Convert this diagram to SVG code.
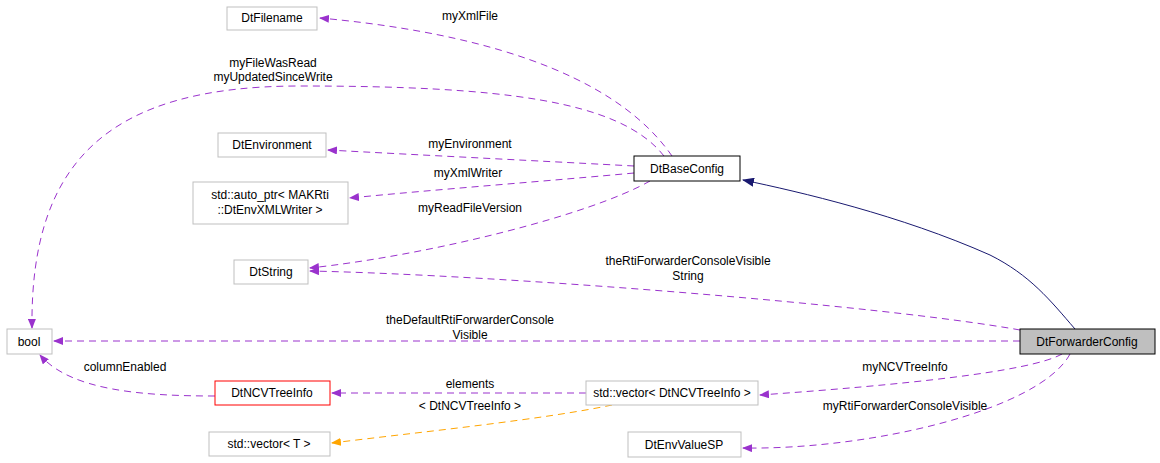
<svg xmlns="http://www.w3.org/2000/svg" width="1160" height="463" viewBox="0 0 1160 463">
<style>
text{font-family:"Liberation Sans",Arial,sans-serif;font-size:12px;fill:#000}
.n{fill:#fff;stroke:#bfbfbf;stroke-width:1}
.p{fill:none;stroke:#9a32cd;stroke-dasharray:7,5;stroke-width:1}
.o{fill:none;stroke:#ffa500;stroke-dasharray:7,5;stroke-width:1}
</style>
<defs>
<marker id="ap" markerWidth="10" markerHeight="8" refX="9" refY="4" orient="auto" markerUnits="userSpaceOnUse"><path d="M0,0L10,4L0,8z" fill="#9a32cd"/></marker>
<marker id="ao" markerWidth="10" markerHeight="8" refX="9" refY="4" orient="auto" markerUnits="userSpaceOnUse"><path d="M0,0L10,4L0,8z" fill="#ffa500"/></marker>
<marker id="an" markerWidth="12" markerHeight="9" refX="11" refY="4.5" orient="auto" markerUnits="userSpaceOnUse"><path d="M0,0L12,4.5L0,9z" fill="#191970"/></marker>
</defs>
<g id="connectors">
<path d="M1075,329 C1050,300 1030,275 990,255 C900,215 800,192 743,180" fill="none" stroke="#191970" marker-end="url(#an)"/>
<path class="p" d="M672,156 C640,110 560,40 320,18" marker-end="url(#ap)"/>
<path class="p" d="M664,156 C620,100 500,86 300,86 C110,86 30,160 32,328" marker-end="url(#ap)"/>
<path class="p" d="M634,166 C560,162 420,155 328,150" marker-end="url(#ap)"/>
<path class="p" d="M634,173 C560,180 430,190 350,198" marker-end="url(#ap)"/>
<path class="p" d="M650,181 C590,215 430,255 310,268" marker-end="url(#ap)"/>
<path class="p" d="M1020,330 C880,305 500,275 310,271" marker-end="url(#ap)"/>
<path class="p" d="M1020,341 L54,341" marker-end="url(#ap)"/>
<path class="p" d="M1062,354 C1030,372 900,385 760,395" marker-end="url(#ap)"/>
<path class="p" d="M1070,354 C1040,410 870,450 743,448" marker-end="url(#ap)"/>
<path class="p" d="M586,393 L332,393" marker-end="url(#ap)"/>
<path class="p" d="M215,396 C140,396 70,390 40,355" marker-end="url(#ap)"/>
<path class="o" d="M612,405 C540,420 420,432 332,443" marker-end="url(#ao)"/>
<text x="470" y="20" text-anchor="middle">myXmlFile</text>
<text x="273" y="67" text-anchor="middle">myFileWasRead</text>
<text x="273" y="81" text-anchor="middle">myUpdatedSinceWrite</text>
<text x="470" y="148" text-anchor="middle">myEnvironment</text>
<text x="468" y="177" text-anchor="middle">myXmlWriter</text>
<text x="470" y="212" text-anchor="middle">myReadFileVersion</text>
<text x="688" y="265" text-anchor="middle">theRtiForwarderConsoleVisible</text>
<text x="688" y="280" text-anchor="middle">String</text>
<text x="470" y="324" text-anchor="middle">theDefaultRtiForwarderConsole</text>
<text x="470" y="339" text-anchor="middle">Visible</text>
<text x="905" y="371" text-anchor="middle">myNCVTreeInfo</text>
<text x="470" y="388" text-anchor="middle">elements</text>
<text x="125" y="371" text-anchor="middle">columnEnabled</text>
<text x="470" y="410" text-anchor="middle">&lt; DtNCVTreeInfo &gt;</text>
<text x="905" y="410" text-anchor="middle">myRtiForwarderConsoleVisible</text>
</g>
<g id="DtFilename"><rect class="n" x="227" y="7" width="90" height="23"/><text x="272" y="22" text-anchor="middle">DtFilename</text></g>
<g id="DtEnvironment"><rect class="n" x="218" y="133" width="108" height="24"/><text x="272" y="149" text-anchor="middle">DtEnvironment</text></g>
<g id="auto_ptr"><rect class="n" x="193" y="182" width="155" height="42"/><text x="270" y="199" text-anchor="middle">std::auto_ptr&lt; MAKRti</text><text x="270" y="214" text-anchor="middle">::DtEnvXMLWriter &gt;</text></g>
<g id="DtString"><rect class="n" x="234" y="260" width="74" height="24"/><text x="271" y="276" text-anchor="middle">DtString</text></g>
<g id="bool"><rect class="n" x="7" y="329" width="45" height="25"/><text x="29" y="346" text-anchor="middle">bool</text></g>
<g id="DtNCVTreeInfo"><rect x="215" y="381" width="115" height="24" fill="#fff" stroke="#ff0000"/><text x="272" y="397" text-anchor="middle">DtNCVTreeInfo</text></g>
<g id="vectorT"><rect class="n" x="209" y="432" width="121" height="24"/><text x="269" y="448" text-anchor="middle">std::vector&lt; T &gt;</text></g>
<g id="DtBaseConfig"><rect x="634" y="156" width="106" height="25" fill="#fff" stroke="#000"/><text x="687" y="173" text-anchor="middle">DtBaseConfig</text></g>
<g id="DtForwarderConfig"><rect x="1020" y="329" width="135" height="25" fill="#bfbfbf" stroke="#000"/><text x="1087" y="346" text-anchor="middle">DtForwarderConfig</text></g>
<g id="vectorNCV"><rect class="n" x="586" y="381" width="172" height="24"/><text x="672" y="397" text-anchor="middle">std::vector&lt; DtNCVTreeInfo &gt;</text></g>
<g id="DtEnvValueSP"><rect class="n" x="628" y="432" width="113" height="25"/><text x="684" y="449" text-anchor="middle">DtEnvValueSP</text></g>
</svg>
